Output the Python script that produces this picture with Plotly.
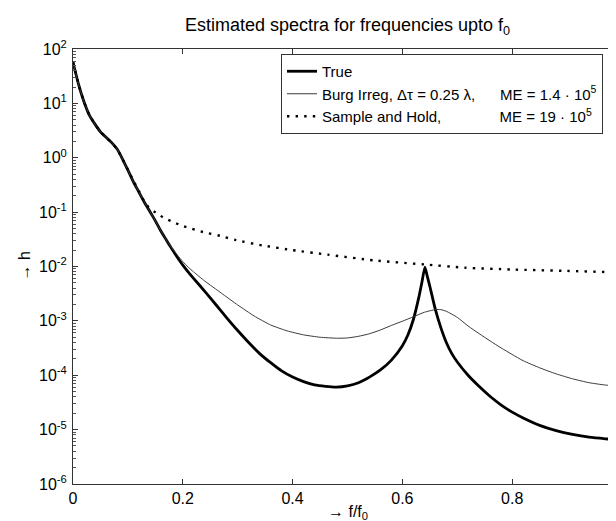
import plotly.graph_objects as go

# ---------------- data ----------------
true_f = [0.0, 0.01, 0.02, 0.03, 0.04, 0.05, 0.06, 0.07, 0.08, 0.09, 0.10, 0.11, 0.12,
          0.13, 0.14, 0.15, 0.16, 0.17, 0.18, 0.19, 0.20, 0.21, 0.22, 0.24, 0.26, 0.28, 0.30,
          0.32, 0.34, 0.36, 0.38, 0.40, 0.42, 0.44, 0.46, 0.48, 0.50, 0.52, 0.54, 0.56,
          0.58, 0.60, 0.61, 0.62, 0.63, 0.635, 0.641, 0.645, 0.65, 0.66, 0.67, 0.68,
          0.69, 0.70, 0.72, 0.74, 0.76, 0.78, 0.80, 0.82, 0.85, 0.88, 0.91, 0.94, 0.97, 1.0]
true_h = [57, 22.6, 10.7, 6.0, 4.15, 3.0, 2.38, 1.92, 1.46, 0.955, 0.59, 0.36, 0.234,
          0.152, 0.103, 0.069, 0.045, 0.0308, 0.0211, 0.0148, 0.0106, 0.0079, 0.0060, 0.0035, 0.0020, 0.00114, 6.65e-4,
          4.0e-4, 2.5e-4, 1.7e-4, 1.2e-4, 9.25e-5, 7.65e-5, 6.65e-5, 6.25e-5, 6.07e-5, 6.4e-5, 7.3e-5, 9.25e-5, 1.25e-4,
          1.9e-4, 3.5e-4, 5.5e-4, 1.06e-3, 2.73e-3, 4.8e-3, 9.7e-3, 6.8e-3, 4.3e-3, 1.62e-3, 7.5e-4, 4.0e-4,
          2.5e-4, 1.75e-4, 9.9e-5, 6.2e-5, 4.06e-5, 2.83e-5, 2.1e-5, 1.64e-5, 1.2e-5, 9.6e-6, 8.15e-6, 7.25e-6, 6.78e-6, 6.45e-6]

burg_f = [0.0, 0.01, 0.02, 0.03, 0.04, 0.05, 0.06, 0.07, 0.08, 0.09, 0.10, 0.11, 0.12,
          0.13, 0.14, 0.15, 0.16, 0.17, 0.18, 0.19, 0.20, 0.21, 0.22, 0.24, 0.27, 0.30,
          0.33, 0.36, 0.39, 0.42, 0.45, 0.48, 0.50, 0.52, 0.54, 0.56, 0.58, 0.60, 0.62, 0.64,
          0.66, 0.67, 0.68, 0.70, 0.72, 0.74, 0.76, 0.78, 0.80, 0.82, 0.85, 0.88, 0.91, 0.94, 0.97, 1.0]
burg_h = [57, 22.6, 10.7, 6.0, 4.15, 3.0, 2.38, 1.92, 1.46, 0.955, 0.59, 0.36, 0.234,
          0.152, 0.103, 0.069, 0.045, 0.0308, 0.022, 0.0163, 0.0123, 0.0097, 0.0079, 0.0054, 0.00325, 0.00196,
          0.00123, 8.4e-4, 6.55e-4, 5.53e-4, 5.0e-4, 4.8e-4, 4.85e-4, 5.2e-4, 5.8e-4, 6.8e-4, 8.25e-4, 9.85e-4, 1.19e-3, 1.44e-3,
          1.61e-3, 1.61e-3, 1.5e-3, 1.16e-3, 8.0e-4, 5.8e-4, 4.26e-4, 3.17e-4, 2.41e-4, 1.85e-4, 1.37e-4, 1.06e-4, 8.6e-5, 7.3e-5, 6.6e-5, 6.4e-5]

sh_f = [0.0, 0.01, 0.02, 0.03, 0.04, 0.05, 0.06, 0.07, 0.08, 0.09, 0.10, 0.11, 0.12,
        0.13, 0.14, 0.151, 0.164, 0.179, 0.2, 0.237, 0.268, 0.297, 0.346, 0.4, 0.464,
        0.55, 0.64, 0.714, 0.8, 0.9, 0.975, 1.0]
sh_h = [57, 22.6, 10.7, 6.0, 4.15, 3.0, 2.38, 1.92, 1.46, 0.955, 0.6, 0.38, 0.245,
        0.156, 0.116, 0.098, 0.08, 0.068, 0.0555, 0.043, 0.0366, 0.0305, 0.0243, 0.020, 0.0165,
        0.0129, 0.0109, 0.0095, 0.0088, 0.0083, 0.0079, 0.0078]

x_ticks = [0, 0.2, 0.4, 0.6, 0.8, 1]
x_tick_text = ["0", "0.2", "0.4", "0.6", "0.8", "1"]
y_exps = [-6, -5, -4, -3, -2, -1, 0, 1, 2]

names = ["True",
         "Burg Irreg, \u0394\u03c4 = 0.25 \u03bb," + "\u00a0" * 6 + "ME = 1.4 \u00b7 10<sup>5</sup>",
         "Sample and Hold," + "\u00a0" * 14 + "ME = 19 \u00b7 10<sup>5</sup>"]

# ---------------- figure ----------------
FONT = "Liberation Sans, Arial, sans-serif"
W, H = 616, 521
ML, MR, MT, MB = 65, 2, 41, 45
PW, PH = W - ML - MR, H - MT - MB

fig = go.Figure()
fig.add_trace(go.Scatter(x=true_f, y=true_h, mode="lines", name=names[0],
                         line=dict(color="black", width=2.8, shape="spline", smoothing=0.5)))
fig.add_trace(go.Scatter(x=burg_f, y=burg_h, mode="lines", name=names[1],
                         line=dict(color="#3a3a3a", width=1, shape="spline", smoothing=0.5)))
fig.add_trace(go.Scatter(x=sh_f, y=sh_h, mode="lines", name=names[2],
                         line=dict(color="black", width=2.4, dash="2.4px,6.2px", shape="spline", smoothing=0.5)))

y_vals = [10.0 ** e for e in y_exps]
y_text = ["10<sup>%d</sup>" % e for e in y_exps]
minor_vals = [k * 10.0 ** e for e in range(-6, 2) for k in range(2, 10)]

fig.update_layout(
    width=W, height=H,
    margin=dict(l=ML, r=MR, t=MT, b=MB, autoexpand=False),
    paper_bgcolor="white", plot_bgcolor="white",
    font=dict(family=FONT, size=16, color="black"),
    title=dict(text="Estimated spectra for frequencies upto f<sub>0</sub>",
               x=(ML + ML + PW) / 2 / W, xanchor="center", y=1 - 16.5 / H, yanchor="middle",
               font=dict(size=18, family=FONT, color="black")),
    showlegend=True,
    legend=dict(x=(273 - ML) / PW, xanchor="left", y=1 - (46 - MT) / PH, yanchor="top",
                bgcolor="white", bordercolor="#333", borderwidth=1,
                font=dict(size=15, family=FONT, color="black"), tracegroupgap=0),
    xaxis=dict(range=[0, 1], tickvals=x_ticks, ticktext=x_tick_text, automargin=False,
               ticks="inside", ticklen=5, tickcolor="#333", showline=True, linecolor="#333",
               linewidth=1, mirror="ticks", showgrid=False, zeroline=False,
               ticklabeloverflow="allow", tickfont=dict(size=16, color="black")),
    yaxis=dict(type="log", range=[-6, 2], tickvals=y_vals, ticktext=y_text, automargin=False,
               ticks="inside", ticklen=5, tickcolor="#333", showline=True, linecolor="#333",
               linewidth=1, mirror="ticks", showgrid=False, zeroline=False,
               ticklabeloverflow="allow", ticklabelstandoff=2, tickfont=dict(size=16, color="black"),
               minor=dict(tickvals=minor_vals, ticks="inside", ticklen=3, tickcolor="#555", showgrid=False)),
    annotations=[
        dict(text="\u2192 f/f<sub>0</sub>", xref="paper", yref="paper",
             x=0.5, y=-(504 - (MT + PH)) / PH, xanchor="center", yanchor="middle",
             showarrow=False, font=dict(size=16, family=FONT, color="black")),
        dict(text="\u2192 h", xref="paper", yref="paper", textangle=-90,
             x=-(ML - 16) / PW, y=0.5, xanchor="center", yanchor="middle",
             showarrow=False, font=dict(size=16, family=FONT, color="black")),
    ],
)

fig.write_html("out.html")
